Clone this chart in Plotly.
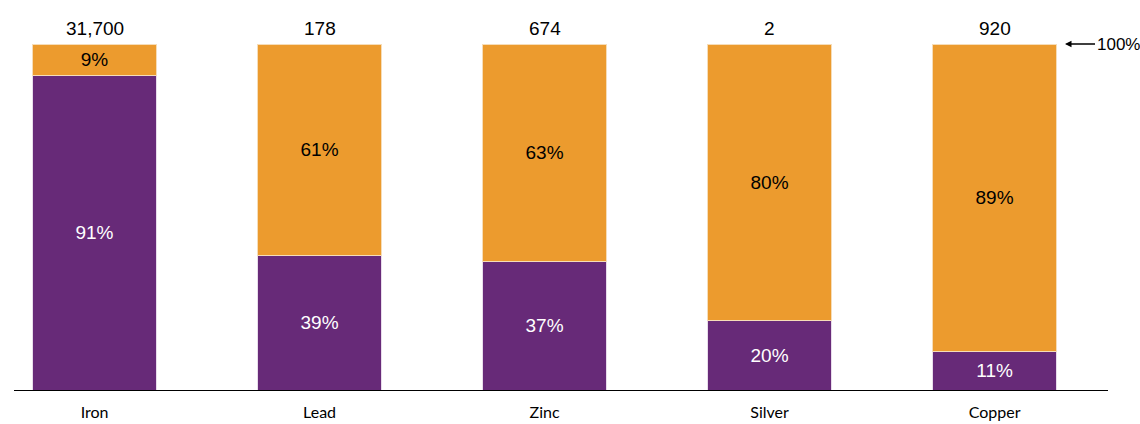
import plotly.graph_objects as go

metals = ["Iron", "Lead", "Zinc", "Silver", "Copper"]
purple_share = [91, 39, 37, 20, 11]
orange_share = [9, 61, 63, 80, 89]
totals = ["31,700", "178", "674", "2", "920"]

PURPLE = "#672A78"
ORANGE = "#EC9B2E"

fig = go.Figure()
fig.add_trace(go.Bar(
    x=metals, y=purple_share, marker=dict(color=PURPLE, line=dict(color="#E8DCEB", width=1)),
    text=[f"{v}%" for v in purple_share], textposition="inside", insidetextanchor="middle",
    textfont=dict(family="Liberation Sans, Arial", size=19, color="white"),
    width=0.55, hoverinfo="skip"))
fig.add_trace(go.Bar(
    x=metals, y=orange_share, marker=dict(color=ORANGE, line=dict(color="#F6DDB8", width=1)),
    text=[f"{v}%" for v in orange_share], textposition="inside", insidetextanchor="middle",
    textfont=dict(family="Liberation Sans, Arial", size=19, color="black"),
    width=0.55, hoverinfo="skip"))

for m, t in zip(metals, totals):
    fig.add_annotation(x=m, y=100, text=t, showarrow=False, yanchor="bottom", yshift=3,
                       font=dict(family="Liberation Sans, Arial", size=19, color="black"))

fig.add_annotation(x=(1065 - 14) / 1094, xref="paper", y=100, yref="y", text="100%",
                   showarrow=True, ax=53, ay=0, arrowhead=2, arrowsize=1, arrowwidth=1.3,
                   arrowcolor="black",
                   font=dict(family="Liberation Sans, Arial", size=17, color="black"))

fig.update_layout(
    barmode="stack", width=1140, height=424,
    margin=dict(l=14, r=32, t=44, b=34),
    plot_bgcolor="white", paper_bgcolor="white", showlegend=False,
    uniformtext=dict(mode=False),
    xaxis=dict(range=[-0.358, 4.504], showline=True, linecolor="black", linewidth=1.2,
               ticks="", tickfont=dict(family="Lato", size=16, color="black"),
               ticklabelstandoff=8, automargin=False,
               showgrid=False, zeroline=False),
    yaxis=dict(range=[0, 100], visible=False, showgrid=False, automargin=False),
)
fig.write_html("out.html")
